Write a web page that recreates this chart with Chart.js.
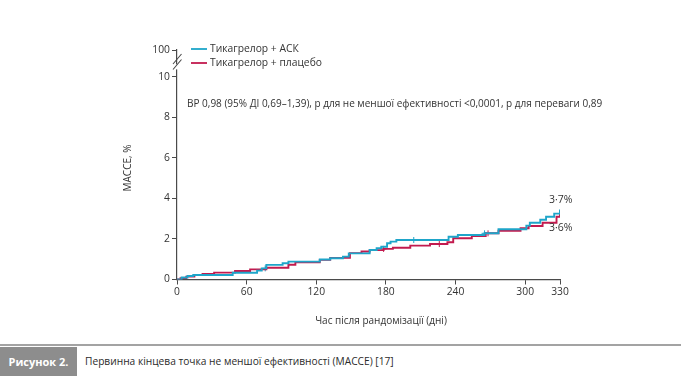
<!DOCTYPE html>
<html>
<head>
    <title>MACCE</title>
    <script src="https://cdn.jsdelivr.net/npm/chart.js"></script>
    <style>
        body { margin: 0; width: 681px; height: 376px; background: #fff; position: relative; overflow: hidden; font-family: "Open Sans", sans-serif; }
        #wrap { position: absolute; left: 0; top: 0; width: 681px; height: 340px; }
        #rule { position: absolute; left: 0; top: 344px; width: 681px; height: 2px; background: #a3a3a3; }
        #figno { position: absolute; left: 0; top: 347px; width: 77px; height: 29px; background: #8d8d8d; color: #fff; font-weight: bold; font-size: 11px; line-height: 29px; text-align: center; }
        #figtext { position: absolute; left: 85px; top: 347px; height: 29px; line-height: 29px; font-size: 10.2px; color: #2b2b2b; }
    </style>
</head>
<body>
    <div id="wrap"><canvas id="macceChart" width="681" height="340"></canvas></div>
    <div id="rule"></div>
    <div id="figno">Рисунок 2.</div>
    <div id="figtext">Первинна кінцева точка не меншої ефективності (МАССЕ) [17]</div>
    <script>
        // дані (дні, %)
        var daysAsk = [0, 4, 9, 14, 48, 69, 73, 77, 91, 96, 123, 132, 143, 148, 166, 172, 176, 181, 184, 189, 234, 242, 265, 277, 301, 304, 313, 318, 325, 330];
        var valsAsk = [0, 0.1, 0.17, 0.22, 0.33, 0.44, 0.55, 0.72, 0.8, 0.88, 0.99, 1.05, 1.13, 1.29, 1.46, 1.54, 1.62, 1.79, 1.87, 1.95, 2.11, 2.2, 2.28, 2.48, 2.66, 2.8, 2.95, 3.1, 3.25, 3.45];
        var daysPlac = [0, 3, 8, 15, 22, 32, 50, 63, 77, 96, 102, 123, 132, 149, 159, 166, 178, 186, 201, 218, 233, 238, 254, 266, 277, 296, 303, 315, 327, 330];
        var valsPlac = [0, 0.07, 0.14, 0.22, 0.27, 0.34, 0.42, 0.5, 0.58, 0.73, 0.85, 0.97, 1.07, 1.3, 1.38, 1.45, 1.51, 1.57, 1.67, 1.75, 1.84, 2.04, 2.15, 2.28, 2.41, 2.53, 2.64, 2.8, 3.1, 3.4];
        // цензуровані спостереження (хрестики)
        var censAskDays = [76, 204, 265];
        var censAskVals = [0.55, 1.95, 2.28];
        var censPlacDays = [178, 226, 268];
        var censPlacVals = [1.51, 1.75, 2.28];
        var xTicks = [0, 60, 120, 180, 240, 300, 330];
        var yTicks = [0, 2, 4, 6, 8, 10];
        var yTop = 11.33; // позиція мітки "100" над розривом осі
        var seriesNames = ['Тикагрелор + АСК', 'Тикагрелор + плацебо'];
        var endLabels = ['3·7%', '3·6%'];

        var cyan = '#1ea5c9';
        var crimson = '#c21a4e';
        var axisCol = '#4a4a4a';
        var txtCol = '#333';
        var fam = '"Open Sans", sans-serif';

        function pts(d, v) {
            return d.map(function(x, i) { return { x: x, y: v[i] }; });
        }

        // підписи, легенда, розрив осі
        var extras = {
            id: 'extras',
            afterDraw: function(chart) {
                var c = chart.ctx;
                var a = chart.chartArea;
                var ys = chart.scales.y;
                c.save();
                // розрив осі Y
                c.fillStyle = '#fff';
                c.fillRect(a.left - 2, ys.getPixelForValue(10.62), 4, 5);
                c.strokeStyle = axisCol;
                c.lineWidth = 1.1;
                c.beginPath();
                c.moveTo(a.left - 4, 64); c.lineTo(a.left + 4.5, 54);
                c.moveTo(a.left - 4, 69.5); c.lineTo(a.left + 4.5, 59.5);
                c.stroke();

                // легенда
                c.font = '10.3px ' + fam;
                c.textBaseline = 'middle';
                c.textAlign = 'left';
                [[cyan, 49], [crimson, 63]].forEach(function(l, i) {
                    c.strokeStyle = l[0];
                    c.lineWidth = 1.8;
                    c.beginPath();
                    c.moveTo(191, l[1]); c.lineTo(207, l[1]);
                    c.stroke();
                    c.fillStyle = txtCol;
                    c.fillText(seriesNames[i], 210, l[1]);
                });

                c.fillStyle = txtCol;
                c.font = '10px ' + fam;
                c.fillText('ВР 0,98 (95% ДІ 0,69–1,39), р для не меншої ефективності <0,0001, р для переваги 0,89', 187, 104);

                // кінцеві підписи
                c.font = '10.5px ' + fam;
                c.fillText(endLabels[0], 549, 200);
                c.fillText(endLabels[1], 549, 228);

                // назви осей
                c.textAlign = 'center';
                c.font = '10px ' + fam;
                c.fillText('Час після рандомізації (дні)', 381, 321);
                c.translate(128, 168);
                c.rotate(-Math.PI / 2);
                c.fillText('МАССЕ, %', 0, 0);
                c.restore();
            }
        };

        var ctx = document.getElementById('macceChart').getContext('2d');
        new Chart(ctx, {
            type: 'line',
            data: {
                datasets: [
                    { label: seriesNames[0], data: pts(daysAsk, valsAsk), borderColor: cyan, borderWidth: 1.9, stepped: true, pointRadius: 0, fill: false },
                    { label: seriesNames[1], data: pts(daysPlac, valsPlac), borderColor: crimson, borderWidth: 1.9, stepped: true, pointRadius: 0, fill: false },
                    { data: pts(censAskDays, censAskVals), showLine: false, pointStyle: 'cross', pointRadius: 3, borderColor: cyan, borderWidth: 1 },
                    { data: pts(censPlacDays, censPlacVals), showLine: false, pointStyle: 'cross', pointRadius: 3, borderColor: crimson, borderWidth: 1 }
                ]
            },
            options: {
                responsive: false,
                animation: false,
                devicePixelRatio: 1,
                layout: { padding: { top: 50, right: 121, bottom: 20.5, left: 0 } },
                plugins: { legend: { display: false }, tooltip: { enabled: false } },
                scales: {
                    x: {
                        type: 'linear', min: 0, max: 330,
                        afterBuildTicks: function(s) { s.ticks = xTicks.map(function(v) { return { value: v }; }); },
                        afterFit: function(s) { s.height = 40; },
                        grid: { drawOnChartArea: false, drawTicks: true, tickLength: 5, color: axisCol },
                        border: { color: axisCol, width: 1.2 },
                        ticks: { color: txtCol, font: { family: fam, size: 10.3 }, padding: 1, maxRotation: 0, autoSkip: false }
                    },
                    y: {
                        type: 'linear', min: 0, max: yTop,
                        afterBuildTicks: function(s) { s.ticks = yTicks.concat([yTop]).map(function(v) { return { value: v }; }); },
                        afterFit: function(s) { s.width = 177; },
                        grid: { drawOnChartArea: false, drawTicks: true, tickLength: 5, color: axisCol },
                        border: { color: axisCol, width: 1.2 },
                        ticks: {
                            color: txtCol, font: { family: fam, size: 10.3 }, padding: 2, autoSkip: false,
                            callback: function(v) { return v === yTop ? '100' : v; }
                        }
                    }
                }
            },
            plugins: [extras]
        });
    </script>
</body>
</html>
